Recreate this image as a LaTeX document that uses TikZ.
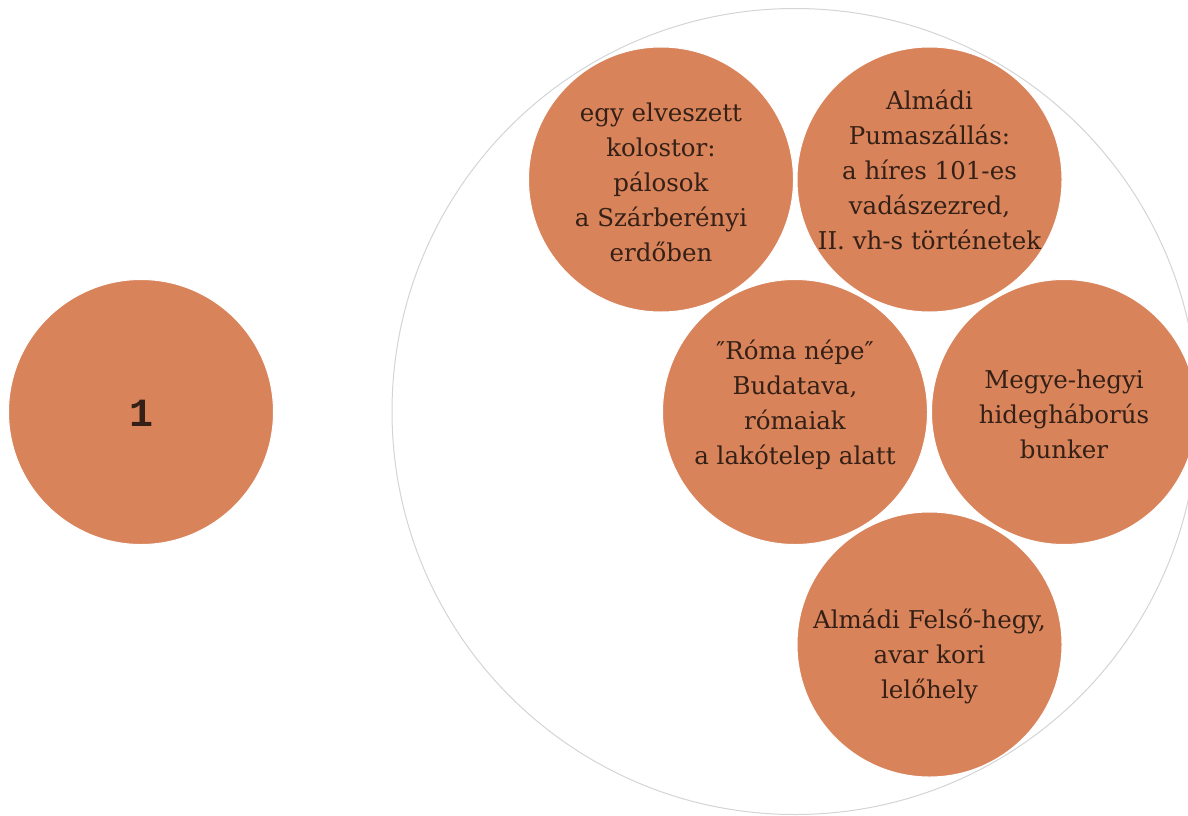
\documentclass[tikz,border=0pt]{standalone}
\usepackage{fontspec}
\setmainfont{DejaVu Serif}
\newfontfamily\numfont{Liberation Mono}
\definecolor{bubfill}{RGB}{217,131,90}
\definecolor{bubtext}{RGB}{52,32,22}
\definecolor{ringgray}{RGB}{210,212,214}
\begin{document}
\begin{tikzpicture}[x=1pt,y=-1pt,
  bub/.style={circle,fill=bubfill,draw=white,line width=1pt,minimum size=265pt,inner sep=0pt},
  bubtxt/.style={align=center,text=bubtext,font=\fontsize{24.5}{35}\selectfont,inner sep=0pt}]
\useasboundingbox (0,0) rectangle (1188,816);
\clip (0,0) rectangle (1188,816);
\node[circle,draw=ringgray,line width=1pt,minimum size=806pt,inner sep=0pt] (ring) at (795,411.5) {};
\node[bub] (one) at (141,412) {};
\node[text=bubtext,font=\numfont\bfseries\fontsize{40}{40}\selectfont] (onet) at (141,413) {1};
\node[bub] (c1) at (661,179.5) {};
\node[bub] (c2) at (929.5,179.5) {};
\node[bub] (c3) at (795,412) {};
\node[bub] (c4) at (1064,412) {};
\node[bub] (c5) at (929.5,644.5) {};
\node[bubtxt] (t1) at (661,182) {egy elveszett\\kolostor:\\pálosok\\a Szárberényi\\erdőben};
\node[bubtxt] (t2) at (929.5,170) {Almádi\\Pumaszállás:\\a híres 101-es\\vadászezred,\\II. vh-s történetek};
\node[bubtxt] (t3) at (795,405) {″Róma népe″\\Budatava,\\rómaiak\\a lakótelep alatt};
\node[bubtxt] (t4) at (1064,414) {Megye-hegyi\\hidegháborús\\bunker};
\node[bubtxt] (t5) at (929.5,656) {Almádi Felső-hegy,\\avar kori\\lelőhely};
\end{tikzpicture}
\end{document}
